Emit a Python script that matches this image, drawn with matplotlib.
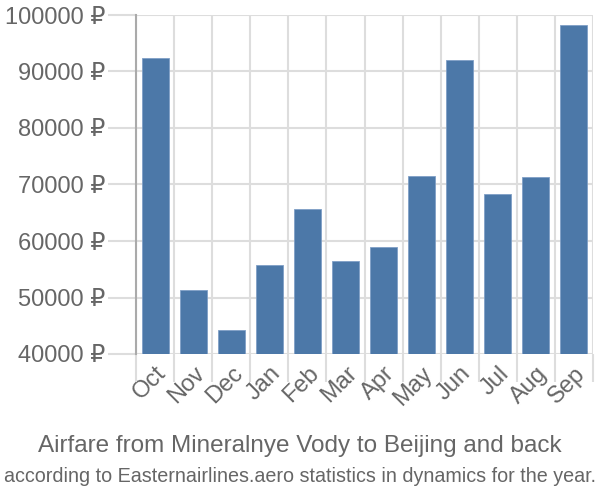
import numpy as np
from matplotlib import pyplot as plt
from matplotlib.ticker import FuncFormatter

plt.rcParams['font.family'] = ['Liberation Sans', 'DejaVu Sans']

# data
months = ['Oct', 'Nov', 'Dec', 'Jan', 'Feb', 'Mar', 'Apr', 'May', 'Jun', 'Jul', 'Aug', 'Sep']
prices = [92400, 51300, 44200, 55800, 65700, 56500, 58900, 71500, 92100, 68300, 71300, 98300]
yticks = [40000, 50000, 60000, 70000, 80000, 90000, 100000]

fig = plt.figure(figsize=(6, 5), dpi=100)
ax = fig.add_axes([0.227, 0.292, 0.761, 0.678])

x = np.arange(len(months))
ax.bar(x, prices, width=0.72, color='#4c78a8', edgecolor='#7f9fc6', linewidth=0.6, zorder=3)

ax.set_xlim(-0.5, len(months) - 0.5)
ax.set_ylim(40000, 100000)
ax.set_yticks(yticks)
ax.yaxis.set_major_formatter(FuncFormatter(lambda v, p: '%d ₽' % v))

ax.set_xticks(x)
ax.set_xticklabels(months, rotation=45, ha='right', va='top', rotation_mode='anchor')
ax.set_xticks(np.arange(-0.5, len(months)), minor=True)
ax.tick_params(axis='x', which='major', length=0, pad=6, labelsize=17, labelcolor='#666666')
ax.tick_params(axis='x', which='minor', length=20, color='#dddddd', width=1.5)
ax.tick_params(axis='y', length=20, color='#dddddd', width=1.5, labelsize=17, labelcolor='#666666', pad=2)

ax.grid(which='minor', axis='x', color='#dddddd', lw=1.5, zorder=0)
ax.grid(which='major', axis='y', color='#dddddd', lw=1.5, zorder=0)

for s in ['top', 'right', 'bottom']:
    ax.spines[s].set_visible(False)
ax.spines['left'].set_color('#aaaaaa')
ax.spines['left'].set_linewidth(1.5)

fig.text(0.5, 0.108, 'Airfare from Mineralnye Vody to Beijing and back', ha='center', va='center',
         fontsize=17.5, color='#666666')
fig.text(0.5, 0.048, 'according to Easternairlines.aero statistics in dynamics for the year.', ha='center',
         va='center', fontsize=14.2, color='#666666')

plt.savefig('out.png', dpi=100)
